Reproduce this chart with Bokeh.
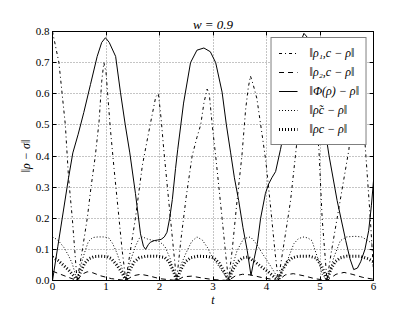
from bokeh.plotting import figure
from bokeh.models import Range1d, LinearAxis, Legend, LegendItem, FixedTicker
from bokeh.embed import file_html
from bokeh.resources import INLINE

# ---------------- data ----------------
title_text = "w = 0.9"
x_ticks = [0, 1, 2, 3, 4, 5, 6]
y_ticks = [0.0, 0.1, 0.2, 0.3, 0.4, 0.5, 0.6, 0.7, 0.8]
y_tick_labels = ["0.0", "0.1", "0.2", "0.3", "0.4", "0.5", "0.6", "0.7", "0.8"]

series_labels = ["‖ρ₁,c − ρ‖", "‖ρ₂,c − ρ‖", "‖Φ(ρ) − ρ‖", "‖ρ̃c − ρ‖", "‖ρc − ρ‖"]

# ||rho_{1,c} - rho||  (dash-dot)
t_r1 = [0.00, 0.06, 0.12, 0.18, 0.24, 0.30, 0.37, 0.43, 0.46,
        0.55, 0.65, 0.72, 0.80, 0.87, 0.92, 0.96, 1.00, 1.04, 1.08, 1.15, 1.22, 1.30, 1.37,
        1.45, 1.55, 1.68, 1.78, 1.86, 1.93, 1.98, 2.03, 2.08, 2.17, 2.25, 2.32,
        2.40, 2.50, 2.61, 2.70, 2.77, 2.83, 2.89, 2.93, 2.985, 3.05, 3.17, 3.24, 3.29,
        3.36, 3.45, 3.54, 3.61, 3.66, 3.70, 3.75, 3.82, 3.92, 3.99, 4.08, 4.16, 4.22,
        4.30, 4.40, 4.45, 4.54, 4.64, 4.72, 4.77, 4.83, 4.91, 4.98, 5.04, 5.13,
        5.21, 5.32, 5.44, 5.54, 5.62, 5.70, 5.77, 5.85, 5.94, 6.00]
v_r1 = [0.80, 0.75, 0.70, 0.60, 0.50, 0.33, 0.20, 0.065, 0.0,
        0.09, 0.20, 0.30, 0.40, 0.51, 0.64, 0.70, 0.67, 0.58, 0.49, 0.36, 0.24, 0.10, 0.0,
        0.09, 0.20, 0.37, 0.46, 0.53, 0.59, 0.60, 0.52, 0.42, 0.26, 0.12, 0.0,
        0.13, 0.27, 0.40, 0.46, 0.50, 0.57, 0.615, 0.60, 0.50, 0.40, 0.20, 0.08, 0.0,
        0.10, 0.257, 0.40, 0.55, 0.62, 0.657, 0.63, 0.585, 0.466, 0.38, 0.23, 0.09, 0.0,
        0.09, 0.20, 0.257, 0.40, 0.56, 0.68, 0.72, 0.66, 0.55, 0.42, 0.20, 0.0,
        0.09, 0.20, 0.32, 0.42, 0.58, 0.70, 0.62, 0.42, 0.20, 0.03]

# ||rho_{2,c} - rho||  (dashed)
t_r2 = [0.00, 0.15, 0.30, 0.46, 0.55, 0.65, 0.75, 0.90, 1.10, 1.37,
        1.50, 1.65, 1.80, 2.00, 2.32, 2.45, 2.60, 2.80, 3.00, 3.29,
        3.42, 3.55, 3.70, 3.90, 4.22, 4.35, 4.50, 4.70, 4.90, 5.13,
        5.30, 5.45, 5.60, 5.80, 6.00]
v_r2 = [0.030, 0.020, 0.010, 0.0, 0.020, 0.028, 0.025, 0.015, 0.006, 0.0,
        0.015, 0.020, 0.015, 0.006, 0.0, 0.012, 0.014, 0.008, 0.003, 0.0,
        0.015, 0.020, 0.018, 0.010, 0.0, 0.018, 0.022, 0.015, 0.006, 0.0,
        0.020, 0.026, 0.020, 0.010, 0.004]

# ||Phi(rho) - rho||  (solid)
t_phi = [0.00, 0.10, 0.20, 0.30, 0.38, 0.48, 0.585, 0.71, 0.835, 0.92, 0.99, 1.06, 1.18,
         1.27, 1.36, 1.445, 1.55, 1.645, 1.70, 1.74, 1.79, 1.83, 1.90, 1.96, 2.03, 2.09,
         2.14, 2.19, 2.24, 2.30, 2.34, 2.45, 2.58, 2.70, 2.83, 2.95, 3.05, 3.17, 3.25,
         3.33, 3.40, 3.48, 3.56, 3.64, 3.71, 3.77, 3.83, 3.89, 3.98, 4.04, 4.10, 4.17,
         4.26, 4.32, 4.45, 4.58, 4.70, 4.82, 4.95, 5.08, 5.17, 5.32, 5.48, 5.56, 5.63,
         5.70, 5.76, 5.84, 5.91, 5.96, 6.00]
v_phi = [0.0, 0.11, 0.22, 0.33, 0.41, 0.47, 0.54, 0.63, 0.72, 0.765, 0.78, 0.765, 0.72,
         0.605, 0.50, 0.41, 0.28, 0.15, 0.11, 0.10, 0.115, 0.123, 0.128, 0.13, 0.132, 0.14,
         0.155, 0.20, 0.26, 0.36, 0.42, 0.57, 0.70, 0.74, 0.747, 0.735, 0.70, 0.605, 0.50,
         0.41, 0.33, 0.257, 0.17, 0.096, 0.016, 0.07, 0.12, 0.20, 0.28, 0.31, 0.33, 0.35,
         0.42, 0.47, 0.62, 0.74, 0.794, 0.77, 0.66, 0.50, 0.40, 0.257, 0.129, 0.07, 0.035,
         0.04, 0.06, 0.10, 0.16, 0.24, 0.32]

# ||rho~_c - rho||  (thin dotted)
t_rt = [0.00, 0.10, 0.21, 0.30, 0.37, 0.46, 0.53, 0.60, 0.67, 0.75, 0.85, 0.95, 1.05,
        1.12, 1.20, 1.28, 1.37, 1.45, 1.55, 1.62, 1.68, 1.78, 1.90, 2.00, 2.10, 2.20,
        2.27, 2.32, 2.40, 2.50, 2.60, 2.70, 2.80, 2.90, 2.95, 3.05, 3.15, 3.29, 3.37,
        3.45, 3.57, 3.70, 3.78, 3.85, 3.93, 4.01, 4.10, 4.17, 4.22, 4.30, 4.39, 4.51,
        4.60, 4.70, 4.78, 4.85, 4.95, 5.04, 5.13, 5.20, 5.26, 5.38, 5.50, 5.65, 5.78,
        5.90, 6.00]
v_rt = [0.140, 0.130, 0.107, 0.080, 0.054, 0.0, 0.050, 0.090, 0.125, 0.138, 0.140, 0.140, 0.137,
        0.120, 0.090, 0.050, 0.0, 0.060, 0.110, 0.135, 0.140, 0.133, 0.128, 0.125, 0.110, 0.070,
        0.030, 0.0, 0.050, 0.090, 0.125, 0.140, 0.130, 0.105, 0.087, 0.060, 0.035, 0.0, 0.050,
        0.096, 0.134, 0.140, 0.125, 0.107, 0.085, 0.064, 0.040, 0.020, 0.0, 0.035, 0.064, 0.118,
        0.135, 0.140, 0.136, 0.128, 0.075, 0.020, 0.0, 0.040, 0.075, 0.128, 0.140, 0.142, 0.140,
        0.128, 0.115]

# ||rho_c - rho||  (thick dotted)
t_rc = [0.00, 0.10, 0.20, 0.30, 0.40, 0.46, 0.53, 0.60, 0.68, 0.78, 0.90, 1.02, 1.10,
        1.20, 1.30, 1.37, 1.45, 1.53, 1.62, 1.75, 1.95, 2.10, 2.18, 2.26, 2.32, 2.40,
        2.48, 2.58, 2.72, 2.90, 3.02, 3.12, 3.22, 3.29, 3.37, 3.46, 3.56, 3.65, 3.72,
        3.82, 3.92, 4.02, 4.12, 4.22, 4.30, 4.39, 4.48, 4.60, 4.80, 4.93, 5.02, 5.08,
        5.13, 5.20, 5.28, 5.38, 5.50, 5.75, 5.90, 6.00]
v_rc = [0.075, 0.065, 0.050, 0.034, 0.014, 0.0, 0.030, 0.055, 0.070, 0.077, 0.078, 0.077, 0.070,
        0.050, 0.025, 0.0, 0.035, 0.060, 0.073, 0.078, 0.078, 0.074, 0.060, 0.030, 0.0, 0.035,
        0.060, 0.073, 0.078, 0.077, 0.072, 0.055, 0.025, 0.0, 0.035, 0.060, 0.073, 0.075, 0.068,
        0.055, 0.042, 0.030, 0.015, 0.0, 0.035, 0.060, 0.073, 0.078, 0.078, 0.072, 0.050, 0.025,
        0.0, 0.035, 0.060, 0.073, 0.078, 0.078, 0.070, 0.060]

# ---------------- figure ----------------
SERIF = "'Liberation Serif', serif"

p = figure(width=410, height=310, output_backend="svg", toolbar_location=None,
           x_range=Range1d(0, 6), y_range=Range1d(0, 0.8),
           min_border_left=52, min_border_right=37, min_border_top=31, min_border_bottom=30,
           x_axis_label="t", y_axis_label="‖ρ − σ‖")
p.outline_line_color = "black"
p.outline_line_width = 1

p.title.text = title_text
p.title.align = "center"
p.title.text_font = SERIF
p.title.text_font_style = "italic"
p.title.text_font_size = "13px"
p.title.text_color = "black"
p.title.standoff = 0

for ax in p.xaxis + p.yaxis:
    ax.major_label_text_font = SERIF
    ax.major_label_text_font_size = "11px"
    ax.major_label_text_color = "black"
    ax.axis_label_text_font = SERIF
    ax.axis_label_text_font_style = "italic"
    ax.axis_label_text_font_size = "12px"
    ax.axis_label_text_color = "black"
    ax.major_tick_in = 4
    ax.major_tick_out = 0
    ax.minor_tick_in = 0
    ax.minor_tick_out = 0
    ax.axis_line_color = "black"
    ax.major_tick_line_color = "black"

p.xaxis.ticker = FixedTicker(ticks=x_ticks)
p.yaxis.ticker = FixedTicker(ticks=y_ticks)
p.yaxis.major_label_overrides = {t: s for t, s in zip(y_ticks, y_tick_labels)}
p.xaxis.major_label_standoff = 2
p.xaxis.axis_label_standoff = 0
p.yaxis.major_label_standoff = 3
p.yaxis.axis_label_standoff = 0

top = LinearAxis(ticker=FixedTicker(ticks=x_ticks),
                 major_label_overrides={t: "" for t in x_ticks},
                 major_label_text_color=None,
                 major_tick_in=4, major_tick_out=0, minor_tick_in=0, minor_tick_out=0,
                 major_label_standoff=0, axis_line_color="black")
right = LinearAxis(ticker=FixedTicker(ticks=y_ticks),
                   major_label_overrides={t: "" for t in y_ticks},
                   major_label_text_color=None,
                   major_tick_in=4, major_tick_out=0, minor_tick_in=0, minor_tick_out=0,
                   major_label_standoff=0, axis_line_color="black")
p.add_layout(top, "above")
p.add_layout(right, "right")

p.xgrid.ticker = FixedTicker(ticks=x_ticks)
p.ygrid.ticker = FixedTicker(ticks=y_ticks)
for g in (p.xgrid, p.ygrid):
    g.grid_line_color = "#8a8a8a"
    g.grid_line_dash = "1 2"
    g.grid_line_width = 1

r1 = p.line(t_r1, v_r1, line_color="black", line_width=1, line_dash="3 3 1 3")
r2 = p.line(t_r2, v_r2, line_color="black", line_width=1, line_dash="5 4")
r3 = p.line(t_phi, v_phi, line_color="black", line_width=1)
r4 = p.line(t_rt, v_rt, line_color="black", line_width=1, line_dash="1 2")
r5 = p.line(t_rc, v_rc, line_color="black", line_width=3, line_dash="1 2")

legend = Legend(items=[LegendItem(label=lab, renderers=[r])
                       for lab, r in zip(series_labels, [r1, r2, r3, r4, r5])],
                location="top_right")
legend.border_line_color = "black"
legend.border_line_width = 1
legend.background_fill_color = "white"
legend.background_fill_alpha = 1
legend.margin = 6
legend.padding = 7
legend.spacing = 3
legend.label_height = 16
legend.glyph_height = 16
legend.glyph_width = 19
legend.label_standoff = 12
legend.label_text_font = SERIF
legend.label_text_font_style = "italic"
legend.label_text_font_size = "12px"
legend.label_text_color = "black"
p.add_layout(legend)

open("out.html", "w").write(file_html(p, INLINE))
